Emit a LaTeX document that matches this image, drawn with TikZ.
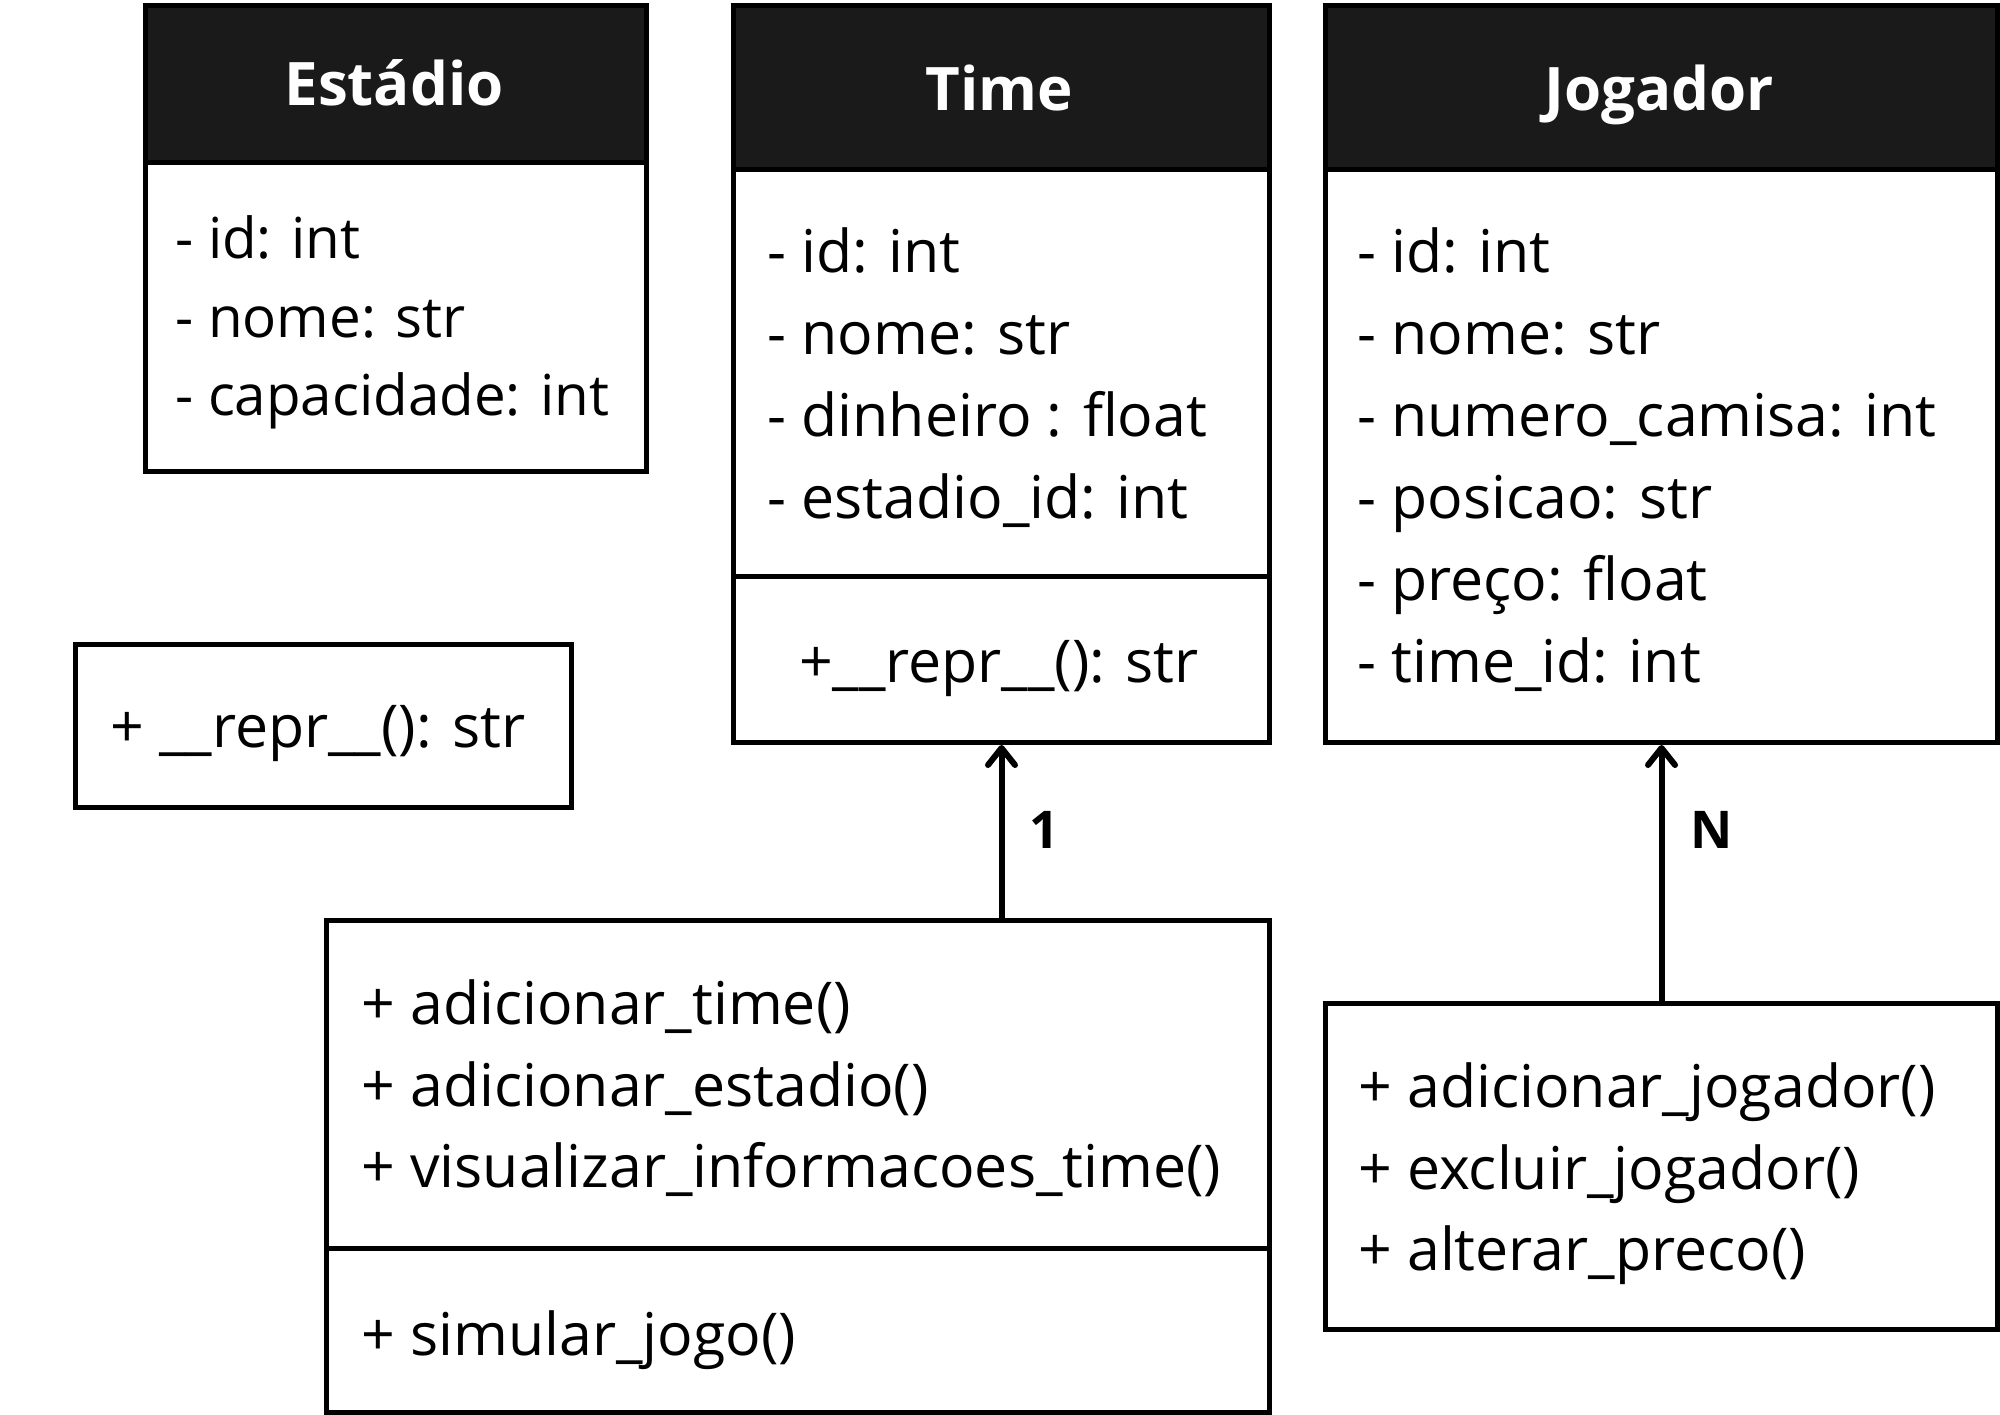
\documentclass[tikz,border=0pt]{standalone}
\usepackage{fontspec}
\setmainfont{Open Sans}
\usetikzlibrary{arrows.meta}
\definecolor{hdr}{HTML}{1A1A1A}
\begin{document}
\begin{tikzpicture}[x=1pt,y=-1pt,
  box/.style={draw=black, line width=5pt, fill=white, inner sep=0pt, anchor=north west},
  head/.style={draw=black, line width=5pt, fill=hdr, inner sep=0pt, anchor=north west},
  divl/.style={draw=black, line width=5pt},
  txt/.style={inner sep=0pt, anchor=base west, font=\fontsize{59}{82}\selectfont},
  txts/.style={inner sep=0pt, anchor=base west, font=\fontsize{56.5}{78}\selectfont},
  title/.style={inner sep=0pt, anchor=base, text=white, font=\fontsize{60}{70}\selectfont\bfseries},
  mult/.style={inner sep=0pt, anchor=base west, font=\fontsize{52}{60}\selectfont\bfseries},
  arr/.style={draw=black, line width=6pt, -{Straight Barb[length=17pt,width=27pt,line cap=round,line join=round]}}
]
\useasboundingbox (0,0) rectangle (2000,1414);
\fill[white] (0,0) rectangle (2000,1414);

% Estadio
\node[box, minimum width=501pt, minimum height=466pt] (est) at (143,3) {};
\node[head, minimum width=501pt, minimum height=157pt] (esth) at (143,3) {};
\node[title] (estt) at (394,105) {Estádio};
\node[txts] (est1) at (175,258) {- id: int};
\node[txts] (est2) at (175,337) {- nome: str};
\node[txts] (est3) at (175,415) {- capacidade: int};

% Time
\node[box, minimum width=536pt, minimum height=737pt] (tm) at (731,3) {};
\node[head, minimum width=536pt, minimum height=164pt] (tmh) at (731,3) {};
\node[title] (tmt) at (999,110) {Time};
\draw[divl] (731,576) -- (1267,576);
\node[txt] (tm1) at (767,272) {- id: int};
\node[txt] (tm2) at (767,354) {- nome: str};
\node[txt] (tm3) at (767,436) {- dinheiro : float};
\node[txt] (tm4) at (767,518) {- estadio\_id: int};
\node[txt, anchor=base] (tm5) at (999,682) {+\_\_repr\_\_(): str};

% Jogador
\node[box, minimum width=672pt, minimum height=737pt] (jg) at (1323,3) {};
\node[head, minimum width=672pt, minimum height=164pt] (jgh) at (1323,3) {};
\node[title] (jgt) at (1659,110) {Jogador};
\node[txt] (jg1) at (1357,272) {- id: int};
\node[txt] (jg2) at (1357,354) {- nome: str};
\node[txt] (jg3) at (1357,436) {- numero\_camisa: int};
\node[txt] (jg4) at (1357,518) {- posicao: str};
\node[txt] (jg5) at (1357,600) {- preço: float};
\node[txt] (jg6) at (1357,682) {- time\_id: int};

% repr box
\node[box, minimum width=496pt, minimum height=163pt] (rp) at (73,642) {};
\node[txt] (rp1) at (110,747) {+ \_\_repr\_\_(): str};

% controller (bottom left)
\node[box, minimum width=943pt, minimum height=492pt] (ctl) at (324,918) {};
\draw[divl] (324,1248) -- (1267,1248);
\node[txt] (ctl1) at (361,1024) {+ adicionar\_time()};
\node[txt] (ctl2) at (361,1106) {+ adicionar\_estadio()};
\node[txt] (ctl3) at (361,1187) {+ visualizar\_informacoes\_time()};
\node[txt] (ctl4) at (361,1355) {+ simular\_jogo()};

% controller (bottom right)
\node[box, minimum width=672pt, minimum height=326pt] (jc) at (1323,1001) {};
\node[txt] (jc1) at (1358,1107) {+ adicionar\_jogador()};
\node[txt] (jc2) at (1358,1189) {+ excluir\_jogador()};
\node[txt] (jc3) at (1358,1270) {+ alterar\_preco()};

% connectors
\draw[arr] (tm.south |- ctl.north) -- (tm.south);
\draw[arr] (jc.north) -- (jg.south);
\node[mult] (m1) at (1029,848) {1};
\node[mult] (mN) at (1690,848) {N};
\end{tikzpicture}
\end{document}
